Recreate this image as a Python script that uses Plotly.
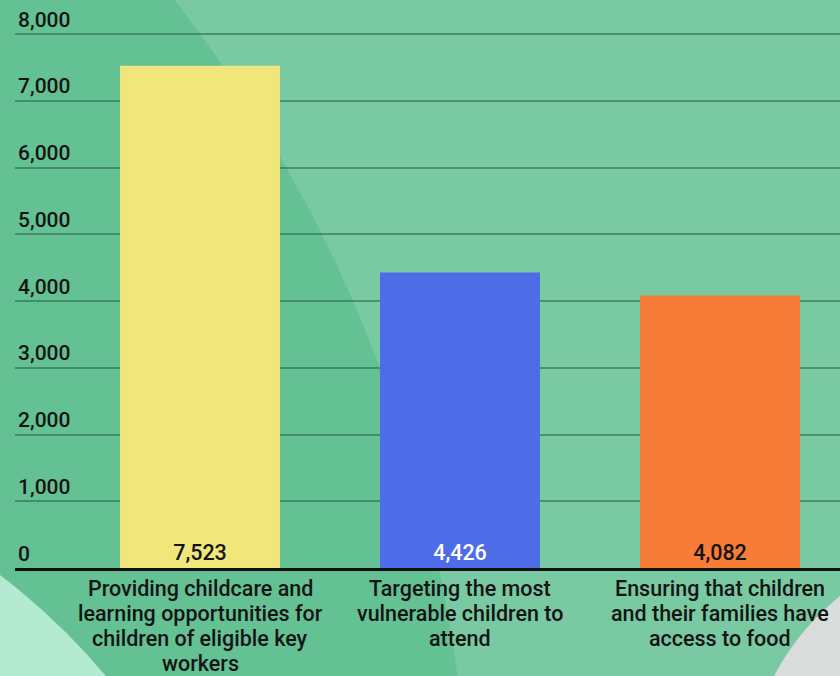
import plotly.graph_objects as go

categories = [
    "Providing childcare and<br>learning opportunities for<br>children of eligible key<br>workers",
    "Targeting the most<br>vulnerable children to<br>attend",
    "Ensuring that children<br>and their families have<br>access to food",
]
values = [7523, 4426, 4082]
bar_colors = ["#f1e67a", "#4e6ce8", "#f67c37"]
label_colors = ["#141414", "#ffffff", "#141414"]
y_ticks = [0, 1000, 2000, 3000, 4000, 5000, 6000, 7000, 8000]

W, H = 840, 676
Y_MAX = 8450
L, R, T, B = 15, 0, 4, 108
PW, PH = W - L - R, H - T - B
TEXT = "#141414"
WEIGHT = 500


def px(x):
    return (x - L) / PW


def py(y):
    return (H - B - y) / PH


def circle(cx, cy, r, color):
    return dict(type="circle", xref="paper", yref="paper", layer="below",
                x0=px(cx - r), x1=px(cx + r), y0=py(cy + r), y1=py(cy - r),
                fillcolor=color, line=dict(width=0))


shapes = [
    circle(-938, 863, 1408, "#64c194"),
    circle(-400, 1100, 660, "#b4ead2"),
    dict(type="path", xref="paper", yref="paper", layer="below",
         path=(f"M {px(840)},{py(596)} Q {px(798)},{py(630)} {px(774)},{py(676)} "
               f"L {px(840)},{py(676)} Z"),
         fillcolor="#dadcdb", line=dict(width=0)),
]

# category labels under the axis, one annotation per line for tighter leading
annotations = []
for i, label in enumerate(categories):
    for j, line in enumerate(label.split("<br>")):
        annotations.append(dict(
            x=i, y=0, xref="x", yref="y", text=line, showarrow=False,
            xanchor="center", yanchor="middle", yshift=-(20 + 25 * j),
            font=dict(family="Roboto", size=21.5, color=TEXT, weight=WEIGHT),
        ))

fig = go.Figure(go.Bar(
    x=[0, 1, 2],
    y=values,
    marker=dict(color=bar_colors, line=dict(width=0)),
    width=0.615,
    text=[f"{v:,}" for v in values],
    textposition="inside",
    insidetextanchor="start",
    textangle=0,
    textfont=dict(family="Roboto", size=21.5, color=label_colors, weight=WEIGHT),
    cliponaxis=False,
    hoverinfo="skip",
))

fig.update_layout(
    width=W, height=H,
    margin=dict(l=L, r=R, t=T, b=B, pad=0),
    paper_bgcolor="#79c9a2",
    plot_bgcolor="rgba(0,0,0,0)",
    showlegend=False,
    shapes=shapes,
    annotations=annotations,
    font=dict(family="Roboto", color=TEXT),
    xaxis=dict(
        range=[-0.5 - 55 / 260, 2.5 - 10 / 260],
        showticklabels=False,
        showgrid=False, zeroline=False,
        showline=True, linecolor="#111111", linewidth=2.5,
        ticks="",
    ),
    yaxis=dict(
        range=[0, Y_MAX],
        tickvals=y_ticks, ticktext=[f"{v:,}" for v in y_ticks],
        ticklabelposition="inside top",
        tickfont=dict(family="Roboto", size=21, color=TEXT, weight=WEIGHT),
        showgrid=True, gridcolor="rgba(40,100,70,0.55)", gridwidth=1.5,
        zeroline=False, showline=False, ticks="",
    ),
)

fig.write_html("out.html")
